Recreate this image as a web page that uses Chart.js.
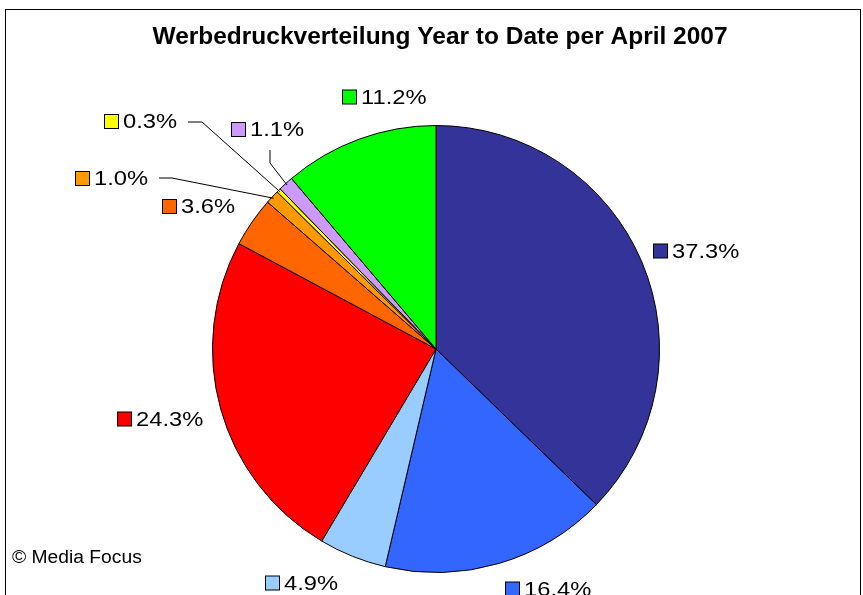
<!DOCTYPE html>
<html>
<head>
<meta charset="utf-8">
<script src="https://cdn.jsdelivr.net/npm/chart.js@4/dist/chart.umd.min.js"></script>
<style>
    html, body { margin: 0; padding: 0; background: #fff; }
    canvas { display: block; }
</style>
</head>
<body>
<canvas id="pieChart" width="863" height="595"></canvas>
<script>
// Daten
const sliceValues = [37.3, 16.4, 4.9, 24.3, 3.6, 1.0, 0.3, 1.1, 11.2];
const sliceColors = ['#333399', '#3366FF', '#99CCFF', '#FF0000', '#FF6600', '#FF9900', '#FFFF00', '#CC99FF', '#00FF00'];
const chartTitle = 'Werbedruckverteilung Year to Date per April 2007';
const sourceNote = '\u00A9 Media Focus';

// Position der Beschriftungen (linke Kante Quadrat, Mitte y)
const labelPos = [
    [653, 251], [505, 589], [265, 583], [117, 419], [162, 206.5],
    [75, 178.5], [104, 121.5], [231, 129.5], [342, 97]
];
// Führungslinien: Knickpunkte, dann Endpunkt am Kreisrand
const leaders = {
    5: [[159, 178], [172, 178]],
    6: [[188, 122], [202, 122]],
    7: [[270, 150], [270, 163]]
};

const FONT = 'Arial, "Liberation Sans", sans-serif';

// Text leicht horizontal gestreckt zeichnen
function stretchedText(ctx, text, x, y, sx) {
    ctx.save();
    ctx.translate(x, y);
    ctx.scale(sx, 1);
    ctx.fillText(text, 0, 0);
    ctx.restore();
}

const decorPlugin = {
    id: 'decor',
    beforeDraw(chart) {
        const ctx = chart.ctx;
        ctx.save();
        ctx.fillStyle = '#fff';
        ctx.fillRect(0, 0, chart.width, chart.height);
        ctx.strokeStyle = '#000';
        ctx.lineWidth = 1;
        ctx.strokeRect(5.5, 9.5, 855, 620);
        ctx.restore();
    },
    afterDraw(chart) {
        const ctx = chart.ctx;
        const arcs = chart.getDatasetMeta(0).data;
        ctx.save();
        // Titel
        ctx.fillStyle = '#000';
        ctx.font = 'bold 24px ' + FONT;
        ctx.textAlign = 'center';
        ctx.textBaseline = 'middle';
        stretchedText(ctx, chartTitle, 440, 37, 1.02);

        // Quelle
        ctx.font = '18px ' + FONT;
        ctx.textAlign = 'left';
        stretchedText(ctx, sourceNote, 12, 558, 1.07);

        // Führungslinien
        ctx.strokeStyle = '#000';
        ctx.lineWidth = 1;
        Object.keys(leaders).forEach(k => {
            const arc = arcs[k];
            const mid = (arc.startAngle + arc.endAngle) / 2;
            const r = arc.outerRadius - 2;
            const pts = leaders[k];
            ctx.beginPath();
            ctx.moveTo(pts[0][0], pts[0][1]);
            for (let i = 1; i < pts.length; i++) ctx.lineTo(pts[i][0], pts[i][1]);
            ctx.lineTo(arc.x + Math.cos(mid) * r, arc.y + Math.sin(mid) * r);
            ctx.stroke();
        });

        // Beschriftungen
        ctx.font = '21px ' + FONT;
        ctx.textBaseline = 'middle';
        sliceValues.forEach((v, i) => {
            const [x, y] = labelPos[i];
            ctx.fillStyle = sliceColors[i];
            ctx.fillRect(x + 0.5, y - 7, 14, 14);
            ctx.strokeStyle = '#000';
            ctx.strokeRect(x + 0.5, y - 7, 14, 14);
            ctx.fillStyle = '#000';
            stretchedText(ctx, v.toFixed(1) + '%', x + 19, y + 1, 1.13);
        });
        ctx.restore();
    }
};

new Chart(document.getElementById('pieChart').getContext('2d'), {
    type: 'pie',
    data: {
        labels: sliceValues.map(v => v.toFixed(1) + '%'),
        datasets: [{
            data: sliceValues,
            backgroundColor: sliceColors,
            borderColor: '#000',
            borderWidth: 1
        }]
    },
    options: {
        responsive: false,
        animation: false,
        layout: { padding: { left: 212, right: 203, top: 125, bottom: 22 } },
        plugins: {
            legend: { display: false },
            tooltip: { enabled: false },
            title: { display: false }
        }
    },
    plugins: [decorPlugin]
});
</script>
</body>
</html>
